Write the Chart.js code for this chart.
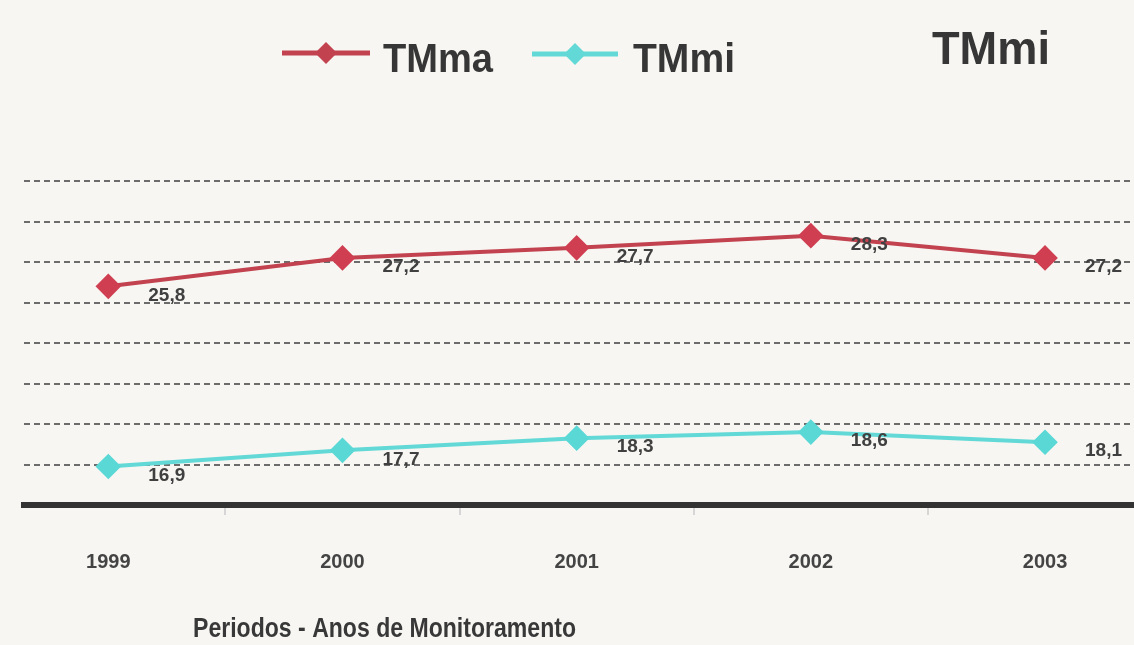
<!DOCTYPE html>
<html>
<head>
<meta charset="utf-8">
<script src="https://cdn.jsdelivr.net/npm/chart.js@4/dist/chart.umd.min.js"></script>
<style>
  html, body { margin: 0; padding: 0; background: #f7f6f2; }
  #wrap { width: 1134px; height: 645px; position: relative; }
</style>
</head>
<body>
<div id="wrap"><canvas id="c" width="1134" height="645"></canvas></div>
<script>
// ---- data ----
const years = [1999, 2000, 2001, 2002, 2003];
const tmma = [25.8, 27.2, 27.7, 28.3, 27.2];
const tmmi = [16.9, 17.7, 18.3, 18.6, 18.1];
const seriesNames = ['TMma', 'TMmi'];
const chartTitle = 'TMmi';
const xTitle = 'Periodos - Anos de Monitoramento';

const FONT = "'Liberation Sans', Arial, sans-serif";
const RED = '#c2434f';
const CYAN = '#62d9d6';

function fmt(v) { return v.toFixed(1).replace('.', ','); }

const bgPlugin = {
  id: 'bg',
  beforeDraw(chart) {
    const ctx = chart.ctx;
    ctx.save();
    ctx.fillStyle = '#f7f6f2';
    ctx.fillRect(0, 0, chart.width, chart.height);
    ctx.restore();
  }
};

const labelPlugin = {
  id: 'valueLabels',
  afterDatasetsDraw(chart) {
    const ctx = chart.ctx;
    ctx.save();
    ctx.font = 'bold 19px ' + FONT;
    ctx.fillStyle = '#404040';
    ctx.textAlign = 'left';
    ctx.textBaseline = 'middle';
    chart.data.datasets.forEach((ds, di) => {
      const meta = chart.getDatasetMeta(di);
      meta.data.forEach((pt, i) => {
        ctx.fillText(fmt(ds.data[i].y), pt.x + 40, pt.y + 9);
      });
    });
    ctx.restore();
  }
};

function drawLegendItem(ctx, x1, x2, y, color, label, textX, maxW) {
  ctx.strokeStyle = color;
  ctx.lineWidth = 5;
  ctx.beginPath();
  ctx.moveTo(x1, y);
  ctx.lineTo(x2, y);
  ctx.stroke();
  const cx = (x1 + x2) / 2, r = 11;
  ctx.fillStyle = color;
  ctx.beginPath();
  ctx.moveTo(cx - r, y);
  ctx.lineTo(cx, y - r);
  ctx.lineTo(cx + r, y);
  ctx.lineTo(cx, y + r);
  ctx.closePath();
  ctx.fill();
  ctx.fillStyle = '#363636';
  ctx.font = 'bold 40px ' + FONT;
  ctx.textAlign = 'left';
  ctx.textBaseline = 'alphabetic';
  ctx.fillText(label, textX, 72, maxW);
}

const decorPlugin = {
  id: 'decor',
  afterDraw(chart) {
    const ctx = chart.ctx;
    ctx.save();
    drawLegendItem(ctx, 282, 370, 53, RED, seriesNames[0], 383, 110);
    drawLegendItem(ctx, 532, 618, 54, CYAN, seriesNames[1], 633, 102);
    ctx.fillStyle = '#363636';
    ctx.font = 'bold 46px ' + FONT;
    ctx.textAlign = 'left';
    ctx.textBaseline = 'alphabetic';
    ctx.fillText(chartTitle, 932, 64, 118);
    ctx.font = 'bold 27px ' + FONT;
    ctx.fillStyle = '#383838';
    ctx.fillText(xTitle, 193, 637, 383);
    ctx.restore();
  }
};

const ctx = document.getElementById('c').getContext('2d');
new Chart(ctx, {
  type: 'line',
  data: {
    datasets: [
      {
        label: seriesNames[0],
        data: years.map((y, i) => ({ x: y, y: tmma[i] })),
        borderColor: RED,
        backgroundColor: RED,
        borderWidth: 4,
        pointStyle: 'rectRot',
        pointRadius: 10,
        pointBackgroundColor: '#cf3f51',
        pointBorderColor: '#cf3f51',
        tension: 0
      },
      {
        label: seriesNames[1],
        data: years.map((y, i) => ({ x: y, y: tmmi[i] })),
        borderColor: CYAN,
        backgroundColor: CYAN,
        borderWidth: 4,
        pointStyle: 'rectRot',
        pointRadius: 10,
        pointBackgroundColor: '#5ad8d6',
        pointBorderColor: '#5ad8d6',
        tension: 0
      }
    ]
  },
  options: {
    responsive: false,
    animation: false,
    layout: { autoPadding: false, padding: { left: 24, top: 181, right: 0, bottom: 0 } },
    plugins: {
      legend: { display: false },
      tooltip: { enabled: false },
      title: { display: false }
    },
    scales: {
      x: {
        type: 'linear',
        min: 1998.64,
        max: 2003.38,
        afterBuildTicks(scale) {
          const t = [];
          years.forEach((y, i) => {
            t.push({ value: y });
            if (i < years.length - 1) t.push({ value: y + 0.5 });
          });
          scale.ticks = t;
        },
        afterFit(scale) {
          scale.height = 140;
          scale.paddingLeft = 0;
          scale.paddingRight = 0;
        },
        ticks: {
          padding: 35,
          autoSkip: false,
          maxRotation: 0,
          color: '#444',
          font: { family: FONT, size: 20, weight: 'bold' },
          callback: (v) => (Number.isInteger(v) ? String(v) : '')
        },
        grid: {
          drawOnChartArea: false,
          drawTicks: true,
          tickLength: 10,
          lineWidth: 2,
          color: (c) => (c.tick && Number.isInteger(c.tick.value) ? 'rgba(0,0,0,0)' : '#d6d6d6')
        },
        border: { display: true, color: '#333', width: 6 }
      },
      y: {
        min: 15,
        max: 31,
        afterFit(scale) { scale.width = 0; scale.paddingTop = 0; scale.paddingBottom = 0; },
        ticks: { display: false, stepSize: 2 },
        grid: {
          drawTicks: false,
          lineWidth: 2,
          color: (c) => (c.tick && c.tick.value === 15 ? 'rgba(0,0,0,0)' : '#6c6c6c')
        },
        border: { display: false, dash: [6, 4] }
      }
    }
  },
  plugins: [bgPlugin, labelPlugin, decorPlugin]
});
</script>
</body>
</html>
